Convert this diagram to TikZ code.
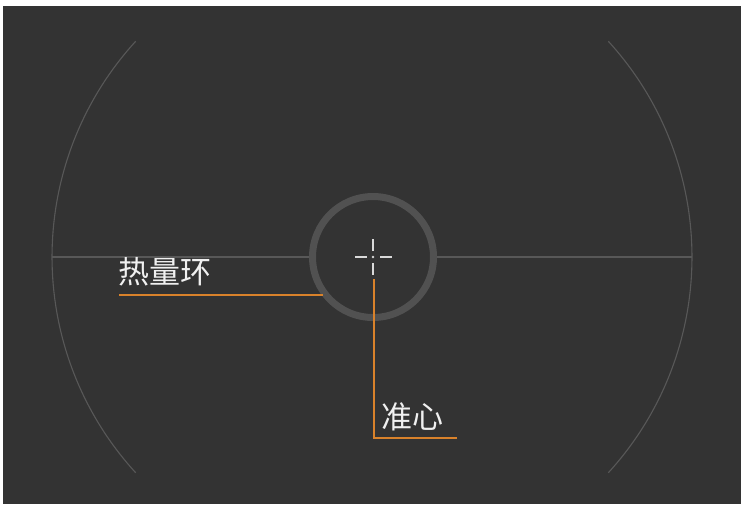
\documentclass[tikz,border=0pt]{standalone}
\usepackage{fontspec}
\newfontfamily\cjk{Noto Sans CJK SC}
\begin{document}
\begin{tikzpicture}[x=1pt,y=-1pt]
\definecolor{bgdark}{HTML}{333333}
\definecolor{guidegray}{HTML}{585858}
\definecolor{ringgray}{HTML}{515151}
\definecolor{orangeline}{HTML}{D9822B}
\tikzset{
  guide/.style={draw=guidegray, line width=1.1pt},
  lbl/.style={text=white!94!black, inner sep=0pt, anchor=west, font=\cjk\fontsize{31}{31}\selectfont},
  leader/.style={draw=orangeline, line width=1.6pt},
  crossbar/.style={draw=white!85!black, line width=1.8pt, line cap=butt}}
\useasboundingbox (0,0) rectangle (741,504);
\fill[white] (0,0) rectangle (741,504);
\fill[bgdark] (3,6) rectangle (741,504);
% big arcs
\coordinate (O) at (372,257);
\draw[guide] (O) ++(137.6:320) arc[start angle=137.6, end angle=222.4, radius=320];
\draw[guide] (O) ++(-42.4:320) arc[start angle=-42.4, end angle=42.4, radius=320];
% ring
\node (ring) [circle, draw=ringgray, line width=7pt, minimum size=121pt, inner sep=0pt] at (373,257) {};
\coordinate (hl) at (52,257);
\coordinate (hr) at (692,257);
\draw[guide] (hl) -- (ring.west);
\draw[guide] (ring.east) -- (hr);
% crosshair
\coordinate (cc) at (373,257);
\draw[crossbar] (355,257) -- (367,257);
\draw[crossbar] (380,257) -- (392,257);
\draw[crossbar] (373,239) -- (373,251);
\draw[crossbar] (373,263) -- (373,275);
\fill[white!85!black] (cc) circle[radius=1.3pt];
% labels
\node (heat) [lbl] at (118,272) {热量环};
\coordinate (l1a) at (119,295);
\coordinate (l1b) at (323,295);
\draw[leader] (l1a) -- (l1b);
\node (aim) [lbl] at (381,417) {准心};
\coordinate (c1) at (374,279);
\coordinate (c3) at (457,438);
\draw[leader] (c1) |- (c3);
\end{tikzpicture}
\end{document}
